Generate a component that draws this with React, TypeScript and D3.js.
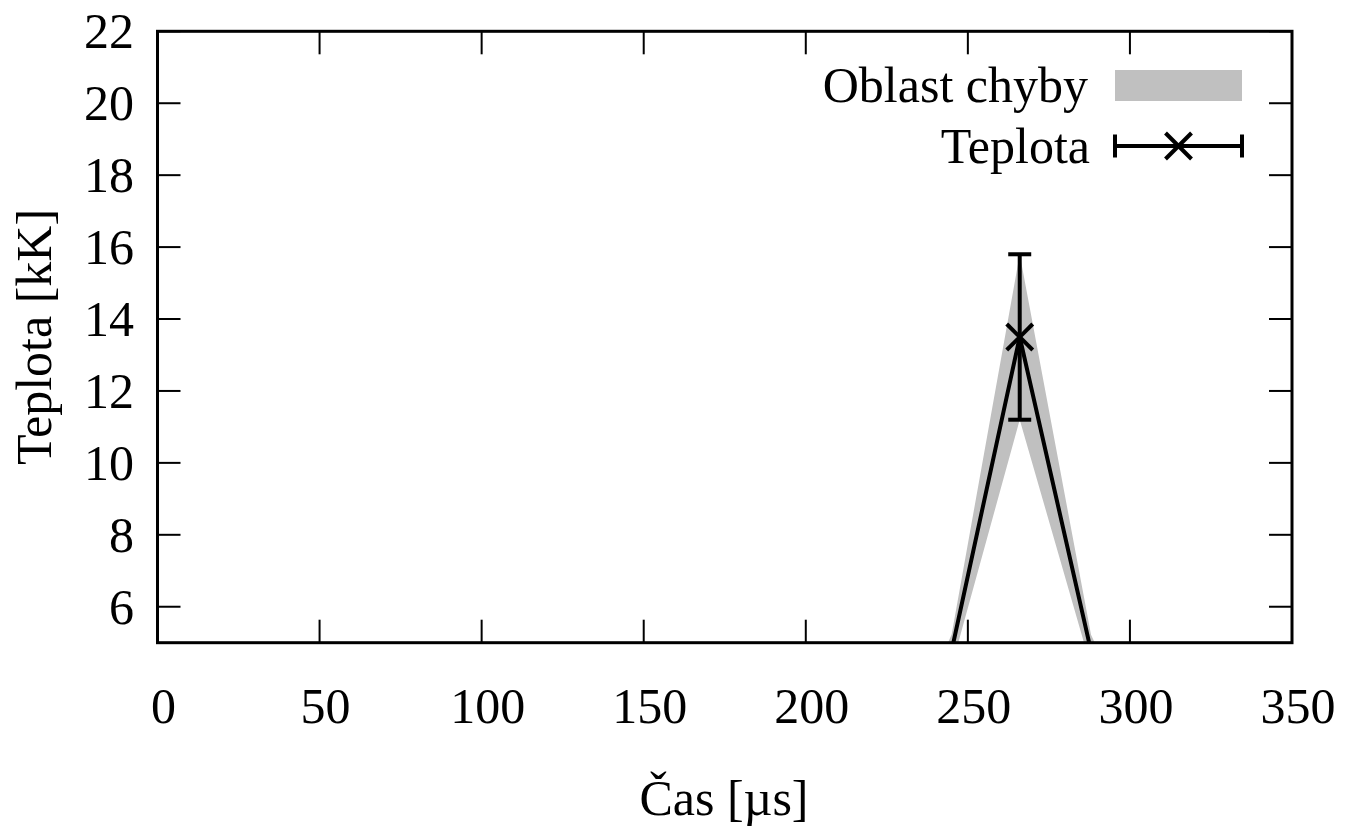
import React from "react";
import * as d3 from "d3";

const times = [224, 245, 266, 288, 310];
const temps = [0.9, 4.78, 13.5, 4.77, 0.9];
const errs = [0.1, 0.45, 2.3, 0.45, 0.1];

const xTicks = [0, 50, 100, 150, 200, 250, 300, 350];
const yTicks = [6, 8, 10, 12, 14, 16, 18, 20, 22];

const xLabel = "Čas [µs]";
const yLabel = "Teplota [kK]";
const legendBand = "Oblast chyby";
const legendLine = "Teplota";

const W = 1349;
const H = 827;
const L = 157.5, R = 1292, T = 31.3, B = 642.7;
const FONT = "'Liberation Serif', 'Times New Roman', serif";
const FS = 50;
const GREY = "#c0c0c0";

export default function App() {
  const x = d3.scaleLinear().domain([0, 350]).range([L, R]);
  const y = d3.scaleLinear().domain([5, 22]).range([B, T]);
  const pts = times.map((t, i) => ({ t, v: temps[i], e: errs[i] }));

  const area = d3
    .area<{ t: number; v: number; e: number }>()
    .x((d) => x(d.t))
    .y0((d) => y(d.v - d.e))
    .y1((d) => y(d.v + d.e));
  const line = d3
    .line<{ t: number; v: number; e: number }>()
    .x((d) => x(d.t))
    .y((d) => y(d.v));

  const visible = pts.filter((d) => d.v >= 5 && d.v <= 22);
  const tick = 23;
  const cap = 11.5;
  const m = 13;

  const marker = (cx: number, cy: number, key: string) => (
    <g key={key} stroke="#000" strokeWidth={4}>
      <line x1={cx - m} y1={cy - m} x2={cx + m} y2={cy + m} />
      <line x1={cx - m} y1={cy + m} x2={cx + m} y2={cy - m} />
    </g>
  );

  const lgY1 = 85;
  const lgY2 = 146;
  const lgX0 = 1115;
  const lgX1 = 1242;

  return (
    <svg
      width={W}
      height={H}
      style={{ position: "absolute", left: 0, top: 0, background: "#fff" }}
      fontFamily={FONT}
    >
      <defs>
        <clipPath id="plotclip">
          <rect x={L} y={T} width={R - L} height={B - T} />
        </clipPath>
      </defs>
      <rect x={0} y={0} width={W} height={H} fill="#fff" />

      {/* ticks */}
      <g stroke="#000" strokeWidth={2}>
        {xTicks.map((t) => (
          <g key={"xt" + t}>
            <line x1={x(t)} x2={x(t)} y1={B} y2={B - tick} />
            <line x1={x(t)} x2={x(t)} y1={T} y2={T + tick} />
          </g>
        ))}
        {yTicks.map((t) => (
          <g key={"yt" + t}>
            <line x1={L} x2={L + tick} y1={y(t)} y2={y(t)} />
            <line x1={R} x2={R - tick} y1={y(t)} y2={y(t)} />
          </g>
        ))}
      </g>

      {/* data */}
      <g clipPath="url(#plotclip)">
        <path d={area(pts) || ""} fill={GREY} stroke="none" />
        <path d={line(pts) || ""} fill="none" stroke="#000" strokeWidth={4} strokeLinejoin="miter" />
        {visible.map((d, i) => (
          <g key={"eb" + i} stroke="#000" strokeWidth={4}>
            <line x1={x(d.t)} x2={x(d.t)} y1={y(d.v - d.e)} y2={y(d.v + d.e)} />
            <line x1={x(d.t) - cap} x2={x(d.t) + cap} y1={y(d.v - d.e)} y2={y(d.v - d.e)} />
            <line x1={x(d.t) - cap} x2={x(d.t) + cap} y1={y(d.v + d.e)} y2={y(d.v + d.e)} />
          </g>
        ))}
        {visible.map((d, i) => marker(x(d.t), y(d.v), "mk" + i))}
      </g>

      {/* border */}
      <rect x={L} y={T} width={R - L} height={B - T} fill="none" stroke="#000" strokeWidth={3} />

      {/* tick labels */}
      <g fontSize={FS} fill="#000">
        {xTicks.map((t) => (
          <text key={"xl" + t} x={x(t) + 6} y={723} textAnchor="middle">
            {t}
          </text>
        ))}
        {yTicks.map((t) => (
          <text key={"yl" + t} x={134} y={y(t) + 17} textAnchor="end">
            {t}
          </text>
        ))}
      </g>

      {/* axis labels */}
      <text x={724} y={815} fontSize={FS} textAnchor="middle" fill="#000">
        {xLabel}
      </text>
      <text
        transform={`translate(51, ${(T + B) / 2}) rotate(-90)`}
        fontSize={FS}
        textAnchor="middle"
        fill="#000"
      >
        {yLabel}
      </text>

      {/* legend */}
      <text x={1088} y={lgY1 + 17} fontSize={FS} textAnchor="end" fill="#000">
        {legendBand}
      </text>
      <rect x={lgX0} y={70} width={lgX1 - lgX0} height={31} fill={GREY} />
      <text x={1090} y={lgY2 + 17} fontSize={FS} textAnchor="end" fill="#000">
        {legendLine}
      </text>
      <g stroke="#000" strokeWidth={4}>
        <line x1={lgX0} x2={lgX1} y1={lgY2} y2={lgY2} />
        <line x1={lgX0} x2={lgX0} y1={lgY2 - cap} y2={lgY2 + cap} />
        <line x1={lgX1} x2={lgX1} y1={lgY2 - cap} y2={lgY2 + cap} />
      </g>
      {marker((lgX0 + lgX1) / 2, lgY2, "lgmk")}
    </svg>
  );
}
